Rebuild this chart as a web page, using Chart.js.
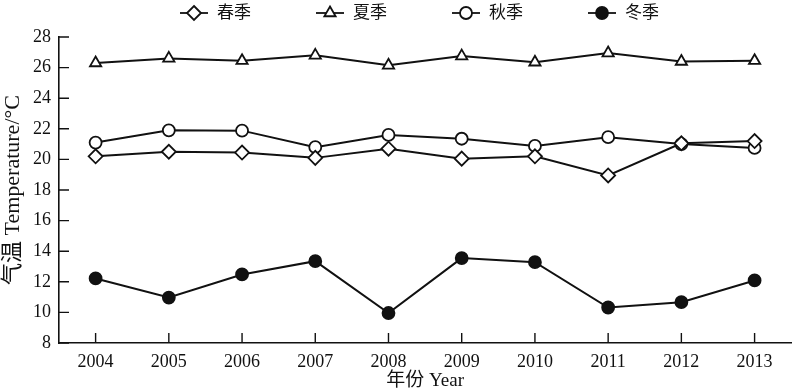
<!DOCTYPE html>
<html>
<head>
<meta charset="utf-8">
<script src="https://cdn.jsdelivr.net/npm/chart.js@4"></script>
<style>
  html, body { margin: 0; padding: 0; background: #fff; }
  #wrap { width: 800px; height: 392px; }
</style>
</head>
<body>
<div id="wrap"><canvas id="tempChart"></canvas></div>
<script>
const years = ['2004', '2005', '2006', '2007', '2008', '2009', '2010', '2011', '2012', '2013']
const seasonNames = ['春季', '夏季', '秋季', '冬季']
const spring = [20.2, 20.5, 20.45, 20.1, 20.7, 20.05, 20.2, 18.95, 21.05, 21.2]
const summer = [26.3, 26.6, 26.45, 26.8, 26.15, 26.75, 26.35, 26.95, 26.4, 26.45]
const autumn = [21.1, 21.9, 21.88, 20.8, 21.6, 21.35, 20.88, 21.45, 21.0, 20.75]
const winter = [12.22, 10.97, 12.48, 13.35, 9.96, 13.55, 13.28, 10.32, 10.67, 12.09]

const FONT = '"Liberation Serif", "Noto Sans CJK SC", serif'
const INK = '#111'

// draw one marker in the legend the same way the points look
function drawMarker(ctx, style, x, y, r, fill) {
    ctx.beginPath()
    if (style === 'rectRot') {
        ctx.moveTo(x, y - r); ctx.lineTo(x + r, y); ctx.lineTo(x, y + r); ctx.lineTo(x - r, y); ctx.closePath()
    } else if (style === 'triangle') {
        ctx.moveTo(x, y - r); ctx.lineTo(x + r * 0.866, y + r * 0.5); ctx.lineTo(x - r * 0.866, y + r * 0.5); ctx.closePath()
    } else {
        ctx.arc(x, y, r, 0, Math.PI * 2)
    }
    ctx.fillStyle = fill
    ctx.fill()
    ctx.stroke()
}

const lineLegend = {
    id: 'lineLegend',
    afterDraw(chart) {
        const { ctx } = chart
        ctx.save()
        ctx.font = '17px ' + FONT
        ctx.textBaseline = 'middle'
        ctx.strokeStyle = INK
        ctx.lineWidth = 1.8
        let x = 180
        const y = 13
        chart.data.datasets.forEach(ds => {
            ctx.beginPath()
            ctx.moveTo(x, y); ctx.lineTo(x + 28, y)
            ctx.stroke()
            drawMarker(ctx, ds.pointStyle, x + 14, y, ds.pointRadius, ds.pointBackgroundColor)
            ctx.fillStyle = INK
            ctx.fillText(ds.label, x + 37, y + 1)
            x += 136
        })
        ctx.restore()
    }
}

// short ticks pointing into the plot, like the original figure
const innerTicks = {
    id: 'innerTicks',
    afterDatasetsDraw(chart) {
        const { ctx, chartArea, scales: { x, y } } = chart
        ctx.save()
        ctx.strokeStyle = INK
        ctx.lineWidth = 1.4
        ctx.beginPath()
        y.ticks.forEach((t, i) => {
            const py = y.getPixelForTick(i)
            ctx.moveTo(chartArea.left, py); ctx.lineTo(chartArea.left + 10, py)
        })
        x.ticks.forEach((t, i) => {
            const px = x.getPixelForTick(i)
            ctx.moveTo(px, chartArea.bottom); ctx.lineTo(px, chartArea.bottom - 10)
        })
        ctx.stroke()
        ctx.restore()
    }
}

function series(label, data, style, radius, fill) {
    return {
        label: label,
        data: data,
        borderColor: INK,
        borderWidth: 2,
        pointStyle: style,
        pointRadius: radius,
        pointHoverRadius: radius,
        pointBorderWidth: 1.8,
        pointBorderColor: INK,
        pointBackgroundColor: fill,
        tension: 0,
        fill: false
    }
}

new Chart(document.getElementById('tempChart'), {
    type: 'line',
    data: {
        labels: years,
        datasets: [
            series(seasonNames[0], spring, 'rectRot', 7, '#fff'),
            series(seasonNames[1], summer, 'triangle', 6.5, '#fff'),
            series(seasonNames[2], autumn, 'circle', 6, '#fff'),
            series(seasonNames[3], winter, 'circle', 6, INK)
        ]
    },
    plugins: [lineLegend, innerTicks],
    options: {
        responsive: true,
        maintainAspectRatio: false,
        animation: false,
        layout: { padding: { top: 37, right: 3, left: 0, bottom: 0 } },
        plugins: {
            legend: { display: false },
            tooltip: { enabled: false }
        },
        scales: {
            x: {
                type: 'category',
                offset: true,
                grid: { display: false, drawTicks: false },
                border: { display: true, color: INK, width: 1.6 },
                ticks: { color: INK, font: { family: FONT, size: 18 }, padding: 8, maxRotation: 0 },
                title: { display: true, text: '年份 Year', color: INK, font: { family: FONT, size: 19 }, padding: { top: 1, bottom: 0 } },
                afterFit: s => { s.height = 49 }
            },
            y: {
                min: 8,
                max: 28,
                ticks: { stepSize: 2, color: INK, font: { family: FONT, size: 18 }, padding: 8 },
                grid: { display: false, drawTicks: false },
                border: { display: true, color: INK, width: 1.6 },
                title: { display: true, text: '气温 Temperature/°C', color: INK, font: { family: FONT, size: 22 }, padding: { top: 0, bottom: 4 } },
                afterFit: s => { s.width = 59 }
            }
        }
    }
})
</script>
</body>
</html>
